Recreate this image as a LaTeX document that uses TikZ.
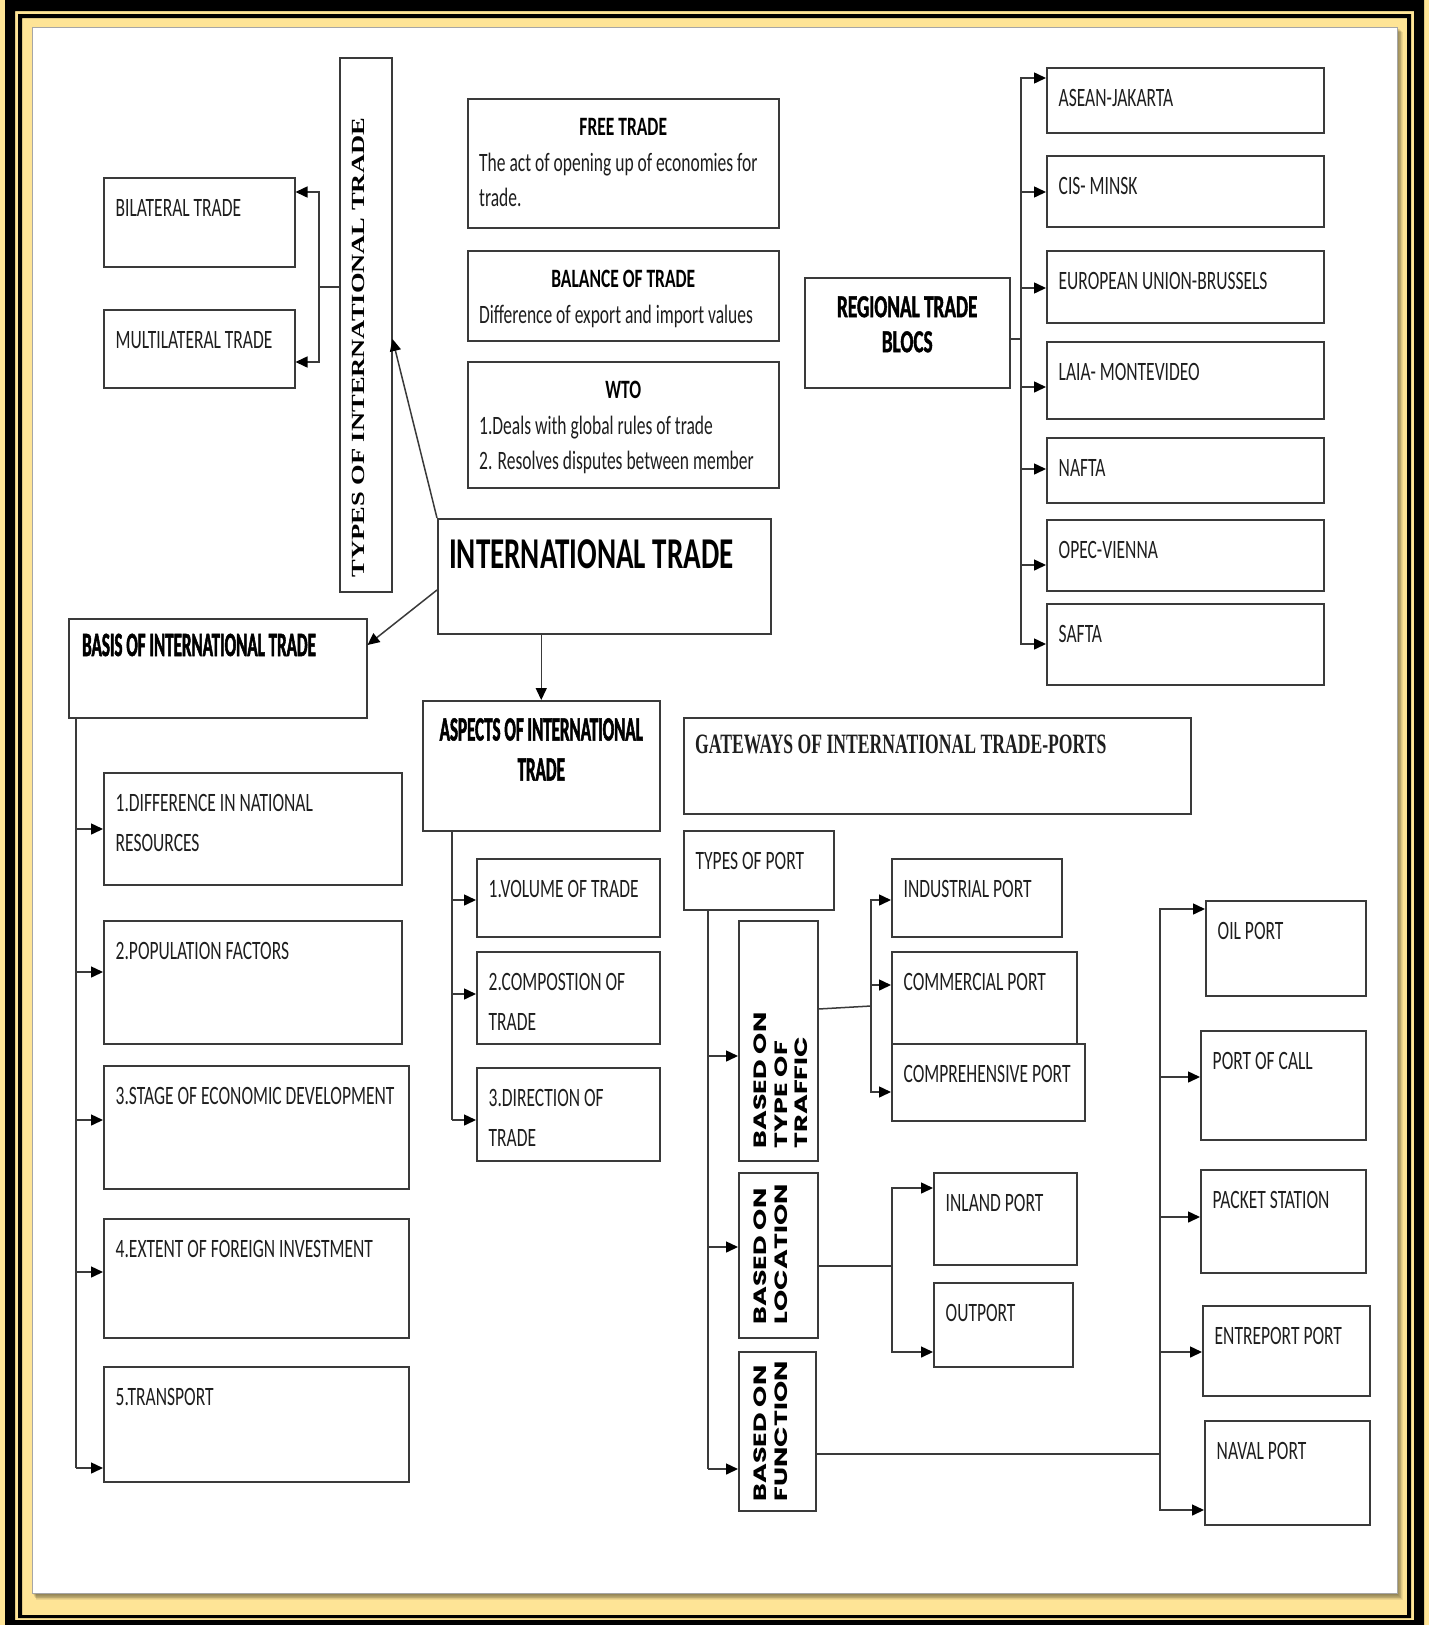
\documentclass[tikz,border=0pt]{standalone}
\usepackage{fontspec}
\usetikzlibrary{arrows.meta,calc}
% condensed faces used for the horizontal labels
\newfontfamily\calfont{Carlito}[FakeStretch=0.66]
\newfontfamily\calheavy{Carlito}[FakeStretch=0.5, BoldFeatures={FakeBold=1.5}]
\newfontfamily\calbloc{Carlito}[FakeStretch=0.6, BoldFeatures={FakeBold=1.2}]
\newfontfamily\serifcond{Liberation Serif}[FakeStretch=0.63]
\newfontfamily\seriffont{Liberation Serif}
\newfontfamily\geofont{Poppins}
\definecolor{gold}{RGB}{254,228,150}
\definecolor{frameline}{RGB}{58,58,58}
\definecolor{ink}{RGB}{30,30,30}

\tikzset{
  box/.style={draw=frameline, line width=1.5pt, fill=white, inner sep=0pt, anchor=north west},
  ln/.style={draw=frameline, line width=1.5pt},
  arr/.style={ln, -{Triangle[length=12pt,width=11pt,color=black]}},
  body/.style={inner sep=0pt, align=left, text=ink, anchor=north west,
               font=\calfont\fontsize{26.5}{40}\selectfont},
  bodyc/.style={inner sep=0pt, align=left, text=ink, anchor=north west,
               font=\calfont\fontsize{26.5}{35}\selectfont},
  headc/.style={inner sep=0pt, anchor=base, text=black,
               font=\calfont\bfseries\fontsize{26.5}{35}\selectfont},
  heavy/.style={inner sep=0pt, text=black, align=center,
               font=\calheavy\bfseries\fontsize{34}{40}\selectfont},
  sidelabel/.style={rotate=90, yscale=0.66, anchor=north west, inner sep=0pt, align=left,
               text=black, font=\geofont\bfseries\fontsize{27}{31}\selectfont},
}
% box: name, left, top, width, height
\newcommand\boxat[5]{\node[box, minimum width=#4pt, minimum height=#5pt] (#1) at (#2,#3) {};}
% top-left label inside a box
\newcommand\lbl[2]{\node[body] (#1t) at ([shift={(12.5pt,-22pt)}]#1.north west) {#2};}

\begin{document}
\begin{tikzpicture}[x=1pt,y=-1pt]
\useasboundingbox (0,0) rectangle (1429,1625);

% ---------- frame ----------
\fill[gold] (0,0) rectangle (1429,1625);
\fill[black, even odd rule] (5,0) rectangle (1424,1625) (15,11) rectangle (1414,1620);
\fill[black, even odd rule] (18,14) rectangle (1411,1618) (22,18) rectangle (1407,1615);
\foreach \i in {1,...,8}
  \fill[black, opacity=0.07] (32+\i*0.5,27+\i*0.6) rectangle (1397+\i*0.7,1593+\i*0.9);
\fill[white] (32,27) rectangle (1397,1593);
\draw[black!35, line width=1pt] (32,27) rectangle (1397,1593);

% ---------- boxes ----------
\boxat{types}{339}{57}{52}{534}
\boxat{bil}{103}{177}{191}{89}
\boxat{mul}{103}{309}{191}{78}
\boxat{free}{467}{98}{311}{129}
\boxat{bal}{467}{250}{311}{90}
\boxat{wto}{467}{361}{311}{126}
\boxat{it}{437}{518}{333}{115}
\boxat{rtb}{804}{277}{205}{110}
\boxat{asean}{1046}{67}{277}{65}
\boxat{cis}{1046}{155}{277}{71}
\boxat{eu}{1046}{250}{277}{72}
\boxat{laia}{1046}{341}{277}{77}
\boxat{nafta}{1046}{437}{277}{65}
\boxat{opec}{1046}{519}{277}{71}
\boxat{safta}{1046}{603}{277}{81}
\boxat{basis}{68}{618}{298}{99}
\boxat{b1}{103}{772}{298}{112}
\boxat{b2}{103}{920}{298}{123}
\boxat{b3}{103}{1065}{305}{123}
\boxat{b4}{103}{1218}{305}{119}
\boxat{b5}{103}{1366}{305}{115}
\boxat{asp}{422}{700}{237}{130}
\boxat{a1}{476}{858}{183}{78}
\boxat{a2}{476}{951}{183}{92}
\boxat{a3}{476}{1067}{183}{93}
\boxat{gate}{683}{717}{507}{96}
\boxat{tport}{683}{830}{150}{79}
\boxat{traffic}{738}{920}{79}{240}
\boxat{loc}{738}{1172}{79}{165}
\boxat{func}{738}{1351}{77}{159}
\boxat{ind}{891}{858}{170}{78}
\boxat{com}{891}{951}{185}{92}
\boxat{comp}{891}{1043}{193}{77}
\boxat{inl}{933}{1172}{143}{92}
\boxat{outp}{933}{1282}{139}{84}
\boxat{oil}{1205}{900}{160}{95}
\boxat{call}{1200}{1030}{165}{109}
\boxat{pack}{1200}{1169}{165}{103}
\boxat{entre}{1202}{1305}{167}{90}
\boxat{naval}{1204}{1420}{165}{104}

% ---------- labels ----------
\node[rotate=90, yscale=0.7, inner sep=0pt, text=black,
      font=\seriffont\bfseries\fontsize{26.5}{30}\selectfont]
      (typest) at ([shift={(-7pt,-23pt)}]types.center) {TYPES OF INTERNATIONAL TRADE};
\lbl{bil}{BILATERAL TRADE}
\lbl{mul}{MULTILATERAL TRADE}

\node[headc] (freeh) at ([yshift=-37pt]free.north) {FREE TRADE};
\node[bodyc] (freet) at ([shift={(12pt,-55pt)}]free.north west) {The act of opening up of economies for\\trade.};
\node[headc] (balh) at ([yshift=-37pt]bal.north) {BALANCE OF TRADE};
\node[bodyc] (balt) at ([shift={(12pt,-55pt)}]bal.north west) {Difference of export and import values};
\node[headc] (wtoh) at ([yshift=-37pt]wto.north) {WTO};
\node[bodyc] (wtot) at ([shift={(12pt,-55pt)}]wto.north west) {1.Deals with global rules of trade\\2. Resolves disputes between member};

\node[inner sep=0pt, anchor=base west, text=black, font=\calfont\bfseries\fontsize{44}{48}\selectfont]
      (itt) at ([shift={(12pt,-50pt)}]it.north west) {INTERNATIONAL TRADE};

\node[inner sep=0pt, anchor=north, align=center, text=black,
      font=\calbloc\bfseries\fontsize{32}{35}\selectfont]
      (rtbt) at ([yshift=-19pt]rtb.north) {REGIONAL TRADE\\BLOCS};
\lbl{asean}{ASEAN-JAKARTA}
\lbl{cis}{CIS- MINSK}
\lbl{eu}{EUROPEAN UNION-BRUSSELS}
\lbl{laia}{LAIA- MONTEVIDEO}
\lbl{nafta}{NAFTA}
\lbl{opec}{OPEC-VIENNA}
\lbl{safta}{SAFTA}

\node[heavy, anchor=base west] (basist) at ([shift={(14pt,-38pt)}]basis.north west) {BASIS OF INTERNATIONAL TRADE};
\lbl{b1}{1.DIFFERENCE IN NATIONAL\\RESOURCES}
\lbl{b2}{2.POPULATION FACTORS}
\lbl{b3}{3.STAGE OF ECONOMIC DEVELOPMENT}
\lbl{b4}{4.EXTENT OF FOREIGN INVESTMENT}
\lbl{b5}{5.TRANSPORT}

\node[heavy, anchor=north] (aspt) at ([yshift=-18pt]asp.north) {ASPECTS OF INTERNATIONAL\\TRADE};
\lbl{a1}{1.VOLUME OF TRADE}
\lbl{a2}{2.COMPOSTION OF\\TRADE}
\lbl{a3}{3.DIRECTION OF\\TRADE}

\node[inner sep=0pt, anchor=base west, text=ink, font=\serifcond\bfseries\fontsize{28}{30}\selectfont]
      (gatet) at ([shift={(12pt,-36pt)}]gate.north west) {GATEWAYS OF INTERNATIONAL TRADE-PORTS};
\lbl{tport}{TYPES OF PORT}
\node[sidelabel] (traffict) at ([shift={(16pt,13pt)}]traffic.south west) {BASED ON\\TYPE OF\\TRAFFIC};
\node[sidelabel] (loct) at ([shift={(16pt,14pt)}]loc.south west) {BASED ON\\LOCATION};
\node[sidelabel] (funct) at ([shift={(16pt,10pt)}]func.south west) {BASED ON\\FUNCTION};
\lbl{ind}{INDUSTRIAL PORT}
\lbl{com}{COMMERCIAL PORT}
\lbl{comp}{COMPREHENSIVE PORT}
\lbl{inl}{INLAND PORT}
\lbl{outp}{OUTPORT}
\lbl{oil}{OIL PORT}
\lbl{call}{PORT OF CALL}
\lbl{pack}{PACKET STATION}
\lbl{entre}{ENTREPORT PORT}
\lbl{naval}{NAVAL PORT}

% ---------- connectors ----------
% types of trade
\coordinate (tj) at (319,287);
\draw[ln] (tj -| types.west) -- (tj);
\draw[arr] (tj) |- ([yshift=-15pt]bil.north east);
\draw[arr] (tj) |- ([yshift=-53pt]mul.north east);

% from the central box
\draw[arr] (it.north west) -- ([yshift=-282pt]types.north east);
\draw[arr] ([yshift=-72pt]it.north west) -- ([yshift=-27pt]basis.north east);
\draw[arr] (it.south -| asp.north) -- (asp.north);

% regional trade blocs
\coordinate (rj) at (1021,339);
\draw[ln] ([yshift=-62pt]rtb.north east) -- (rj);
\coordinate (aseanin) at ([yshift=-11pt]asean.north west);
\coordinate (cisin) at ([yshift=-37pt]cis.north west);
\coordinate (euin) at ([yshift=-38pt]eu.north west);
\coordinate (laiain) at ([yshift=-46pt]laia.north west);
\coordinate (naftain) at ([yshift=-32pt]nafta.north west);
\coordinate (opecin) at ([yshift=-46pt]opec.north west);
\coordinate (saftain) at ([yshift=-41pt]safta.north west);
\draw[arr] (rj) |- (aseanin);
\draw[arr] (rj) |- (saftain);
\foreach \t in {cisin,euin,laiain,naftain,opecin}
  \draw[arr] (rj |- \t) -- (\t);

% basis of trade
\coordinate (bv) at ([xshift=8pt]basis.south west);
\coordinate (b1in) at ([yshift=-57pt]b1.north west);
\coordinate (b2in) at ([yshift=-52pt]b2.north west);
\coordinate (b3in) at ([yshift=-55pt]b3.north west);
\coordinate (b4in) at ([yshift=-54pt]b4.north west);
\coordinate (b5in) at ([yshift=-102pt]b5.north west);
\draw[ln] (bv) -- (bv |- b5in);
\foreach \t in {b1in,b2in,b3in,b4in,b5in}
  \draw[arr] (bv |- \t) -- (\t);

% aspects of trade
\coordinate (av) at ([xshift=30pt]asp.south west);
\coordinate (a1in) at ([yshift=-42pt]a1.north west);
\coordinate (a2in) at ([yshift=-43pt]a2.north west);
\coordinate (a3in) at ([yshift=-53pt]a3.north west);
\draw[ln] (av) -- (av |- a3in);
\foreach \t in {a1in,a2in,a3in}
  \draw[arr] (av |- \t) -- (\t);

% types of port
\coordinate (tv) at ([xshift=25pt]tport.south west);
\coordinate (trin) at ([yshift=-136pt]traffic.north west);
\coordinate (locin) at ([yshift=-75pt]loc.north west);
\coordinate (funin) at ([yshift=-118pt]func.north west);
\draw[ln] (tv) -- (tv |- funin);
\foreach \t in {trin,locin,funin}
  \draw[arr] (tv |- \t) -- (\t);

% by traffic
\coordinate (trj) at (871,1006);
\draw[ln] ([yshift=-89pt]traffic.north east) -- (trj);
\coordinate (indin) at ([yshift=-42pt]ind.north west);
\coordinate (comin) at ([yshift=-34pt]com.north west);
\coordinate (compin) at ([yshift=-49pt]comp.north west);
\draw[arr] (trj) |- (indin);
\draw[arr] (trj) |- (compin);
\draw[arr] (trj |- comin) -- (comin);

% by location
\coordinate (locj) at (892,1266);
\draw[ln] ([yshift=-94pt]loc.north east) -- (locj);
\draw[arr] (locj) |- ([yshift=-16pt]inl.north west);
\draw[arr] (locj) |- ([yshift=-70pt]outp.north west);

% by function
\coordinate (fj) at (1160,1454);
\draw[ln] ([yshift=-103pt]func.north east) -- (fj);
\coordinate (oilin) at ([yshift=-9pt]oil.north west);
\coordinate (callin) at ([yshift=-47pt]call.north west);
\coordinate (packin) at ([yshift=-48pt]pack.north west);
\coordinate (entrein) at ([yshift=-47pt]entre.north west);
\coordinate (navalin) at ([yshift=-90pt]naval.north west);
\draw[arr] (fj) |- (oilin);
\draw[arr] (fj) |- (navalin);
\foreach \t in {callin,packin,entrein}
  \draw[arr] (fj |- \t) -- (\t);
\end{tikzpicture}
\end{document}
